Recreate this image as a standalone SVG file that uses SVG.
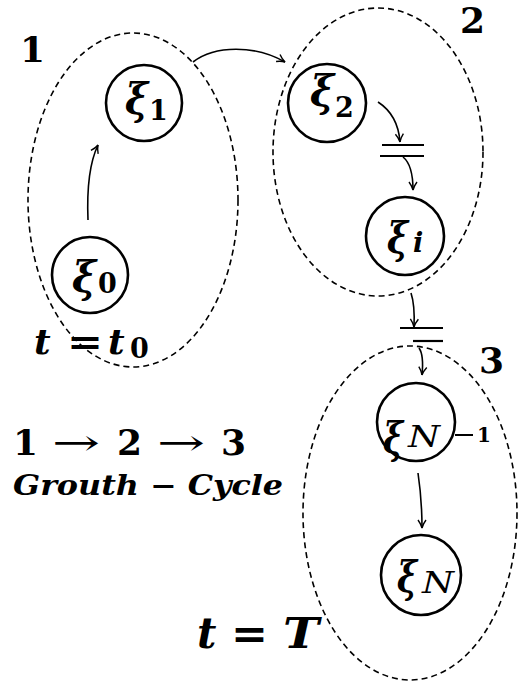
<svg xmlns="http://www.w3.org/2000/svg" width="523" height="685" viewBox="0 0 523 685">
<style>
.grp{fill:none;stroke:#000;stroke-width:1.6;stroke-dasharray:6,4}
.node{fill:#fff;stroke:#000;stroke-width:2.6}
.edge{fill:none;stroke:#000;stroke-width:1.6}
.bar{stroke:#000;stroke-width:2.2}
.m{font-family:"DejaVu Serif","Liberation Serif",serif;font-weight:bold;fill:#000}
.xi{font-size:42px;font-style:italic}
.sub{font-size:27px}
.big{font-size:36px}
.it{font-style:italic}
.arr{font-weight:normal}
.nn{font-family:"DejaVu Serif","Liberation Serif",serif;font-style:italic;font-size:30px;fill:#000}
</style>
<defs>
<marker id="ah" viewBox="0 0 10 10" refX="9" refY="5" markerWidth="10" markerHeight="10" markerUnits="userSpaceOnUse" orient="auto">
<path d="M1,1 Q5,4 9,5 Q5,6 1,9" fill="none" stroke="#000" stroke-width="1.4"/>
</marker>
</defs>
<g id="groups">
<ellipse id="group1" class="grp" cx="133" cy="200" rx="105" ry="167"/>
<ellipse id="group2" class="grp" cx="378" cy="152" rx="105" ry="144"/>
<ellipse id="group3" class="grp" cx="410" cy="513" rx="107" ry="167"/>
</g>
<g id="connectors">
<path class="edge" d="M88,220 Q86,170 98,145" marker-end="url(#ah)"/>
<path class="edge" d="M193,62 C215,45 255,45 285,62" marker-end="url(#ah)"/>
<path class="edge" d="M378,102 Q398,115 400,142" marker-end="url(#ah)"/>
<path class="edge" d="M403,157 Q413,165 413,190" marker-end="url(#ah)"/>
<path class="edge" d="M411,293 Q415,305 414,327" marker-end="url(#ah)"/>
<path class="edge" d="M419,348 Q424,355 422,375" marker-end="url(#ah)"/>
<path class="edge" d="M418,473 Q422,500 422,528" marker-end="url(#ah)"/>
<line class="bar" x1="382" y1="145" x2="424" y2="145"/>
<line class="bar" x1="380" y1="156" x2="424" y2="156"/>
<line class="bar" x1="400" y1="328" x2="443" y2="328"/>
<line class="bar" x1="413" y1="341" x2="443" y2="341"/>
</g>
<g id="node-xi0">
<circle class="node" cx="90" cy="275" r="38"/>
<text class="m xi" x="72" y="292" textLength="24" lengthAdjust="spacingAndGlyphs">ξ</text>
<text class="m sub" x="98" y="293">0</text>
</g>
<g id="node-xi1">
<circle class="node" cx="144" cy="103" r="38"/>
<text class="m xi" x="125" y="114" textLength="23" lengthAdjust="spacingAndGlyphs">ξ</text>
<text class="m sub" x="149" y="120">1</text>
</g>
<g id="node-xi2">
<circle class="node" cx="327" cy="103" r="39"/>
<text class="m xi" x="310" y="106" textLength="24" lengthAdjust="spacingAndGlyphs">ξ</text>
<text class="m sub" x="335" y="117">2</text>
</g>
<g id="node-xii">
<circle class="node" cx="405" cy="236" r="39"/>
<text class="m xi" x="387" y="253" textLength="21" lengthAdjust="spacingAndGlyphs">ξ</text>
<text class="m sub it" x="413" y="252">i</text>
</g>
<g id="node-xiN1">
<circle class="node" cx="416" cy="422" r="39"/>
<text class="m xi" x="383" y="453" textLength="20" lengthAdjust="spacingAndGlyphs">ξ</text>
<text class="nn" x="408" y="447" textLength="32" lengthAdjust="spacingAndGlyphs">N</text>
<line x1="455" y1="435" x2="473" y2="435" stroke="#000" stroke-width="2"/>
<text class="m" x="477" y="442" font-size="20">1</text>
</g>
<g id="node-xiN">
<circle class="node" cx="421" cy="575" r="40"/>
<text class="m xi" x="397" y="592" textLength="20" lengthAdjust="spacingAndGlyphs">ξ</text>
<text class="nn" x="422" y="593" textLength="32" lengthAdjust="spacingAndGlyphs">N</text>
</g>
<g id="labels">
<text class="m big" x="20" y="62">1</text>
<text class="m big" x="460" y="33">2</text>
<text class="m big" x="479" y="373">3</text>
<text class="m big it" x="34" y="354">t</text>
<text class="m big" x="67" y="354" textLength="36" lengthAdjust="spacingAndGlyphs">=</text>
<text class="m big it" x="108" y="354">t</text>
<text class="m sub" x="130" y="358">0</text>
<text class="m big" x="13" y="455">1</text>
<text class="m big arr" x="52" y="455" textLength="48" lengthAdjust="spacingAndGlyphs">→</text>
<text class="m big" x="117" y="455">2</text>
<text class="m big arr" x="157" y="455" textLength="48" lengthAdjust="spacingAndGlyphs">→</text>
<text class="m big" x="221" y="455">3</text>
<text class="m it" x="13" y="495" font-size="27" textLength="270" lengthAdjust="spacingAndGlyphs">Grouth − Cycle</text>
<text class="m it" x="197" y="648" font-size="42">t</text>
<text class="m" x="231" y="648" font-size="42" textLength="37" lengthAdjust="spacingAndGlyphs">=</text>
<text class="m it" x="283" y="648" font-size="42" textLength="36" lengthAdjust="spacingAndGlyphs">T</text>
</g>
</svg>
